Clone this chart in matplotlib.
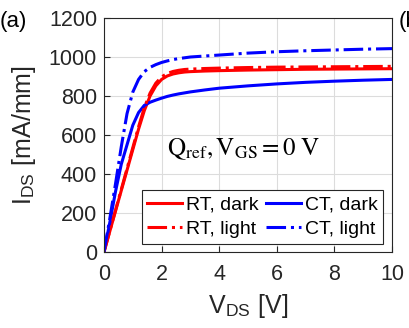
import matplotlib.pyplot as plt
import numpy as np

plt.rcParams['font.family'] = ['Liberation Sans', 'DejaVu Sans']
plt.rcParams['mathtext.fontset'] = 'stix'

vds = [0, 0.2, 0.4, 0.6, 0.8, 1.0, 1.2, 1.4, 1.6, 1.8, 2.0, 2.2, 2.4, 2.6, 2.8, 3.0,
       3.5, 4, 5, 6, 7, 8, 9, 10]
rt_dark = [0, 105, 210, 315, 420, 525, 630, 725, 800, 852, 885, 903, 913, 919, 923, 925,
           928, 930, 933, 935, 937, 938, 939, 940]
rt_light = [0, 107, 214, 321, 428, 535, 642, 740, 815, 866, 898, 916, 926, 932, 936, 938,
            941, 943, 946, 948, 949, 950, 951, 952]
ct_dark = [0, 150, 310, 450, 550, 650, 715, 752, 768, 779, 789, 798, 805, 811, 816, 821,
           831, 840, 852, 862, 870, 876, 881, 885]
ct_light = [0, 170, 350, 540, 710, 820, 885, 925, 947, 961, 972, 980, 987, 992, 996, 1000,
            1005, 1010, 1020, 1027, 1032, 1036, 1040, 1043]

fig = plt.figure(figsize=(4.09, 3.28), dpi=100)
ax = fig.add_axes([104/409, 1-252/328, 288/409, 234/328])

ax.plot(vds, rt_dark, color='red', lw=2.2, label='RT, dark')
ax.plot(vds, ct_dark, color='blue', lw=2.2, label='CT, dark')
ax.plot(vds, rt_light, color='red', lw=2.2, ls='-.', label='RT, light')
ax.plot(vds, ct_light, color='blue', lw=2.2, ls='-.', label='CT, light')

ax.set_xlim(0, 10)
ax.set_ylim(0, 1200)
ax.set_xticks(np.arange(0, 11, 2))
ax.set_yticks(np.arange(0, 1201, 200))
ax.tick_params(direction='in', labelsize=15.5, length=4, color='#262626', labelcolor='#262626')
ax.tick_params(axis='x', pad=9)
ax.tick_params(axis='y', pad=5)
ax.grid(True, color='#dcdcdc', lw=0.8)
ax.set_axisbelow(True)
for s in ax.spines.values():
    s.set_color('#262626')
    s.set_linewidth(0.8)

ax.set_xlabel(r'V$_{\mathregular{DS}}$ [V]', fontsize=18, color='#262626', labelpad=5)
ax.set_ylabel(r'I$_{\mathregular{DS}}$ [mA/mm]', fontsize=18, color='#262626', labelpad=8)

ax.text(2.2, 528, r'$\mathrm{Q_{ref}, V_{GS} = 0\ V}$', fontsize=18, va='center')

h, l = ax.get_legend_handles_labels()
order = [0, 2, 1, 3]
leg = ax.legend([h[i] for i in order], [l[i] for i in order], ncol=2, fontsize=14,
                loc='lower right', bbox_to_anchor=(0.97, 0.036), fancybox=False,
                edgecolor='#262626', framealpha=1, handlelength=1.8, handletextpad=0.2,
                columnspacing=0.35, borderpad=0.3, labelspacing=0.35, borderaxespad=0)
leg.get_frame().set_linewidth(0.8)

fig.text(0, 1-22/328, '(a)', fontsize=16, va='center', ha='left')
fig.text(399/409, 1-22/328, '(b)', fontsize=16, va='center', ha='left')

fig.savefig('out.png', dpi=100)
